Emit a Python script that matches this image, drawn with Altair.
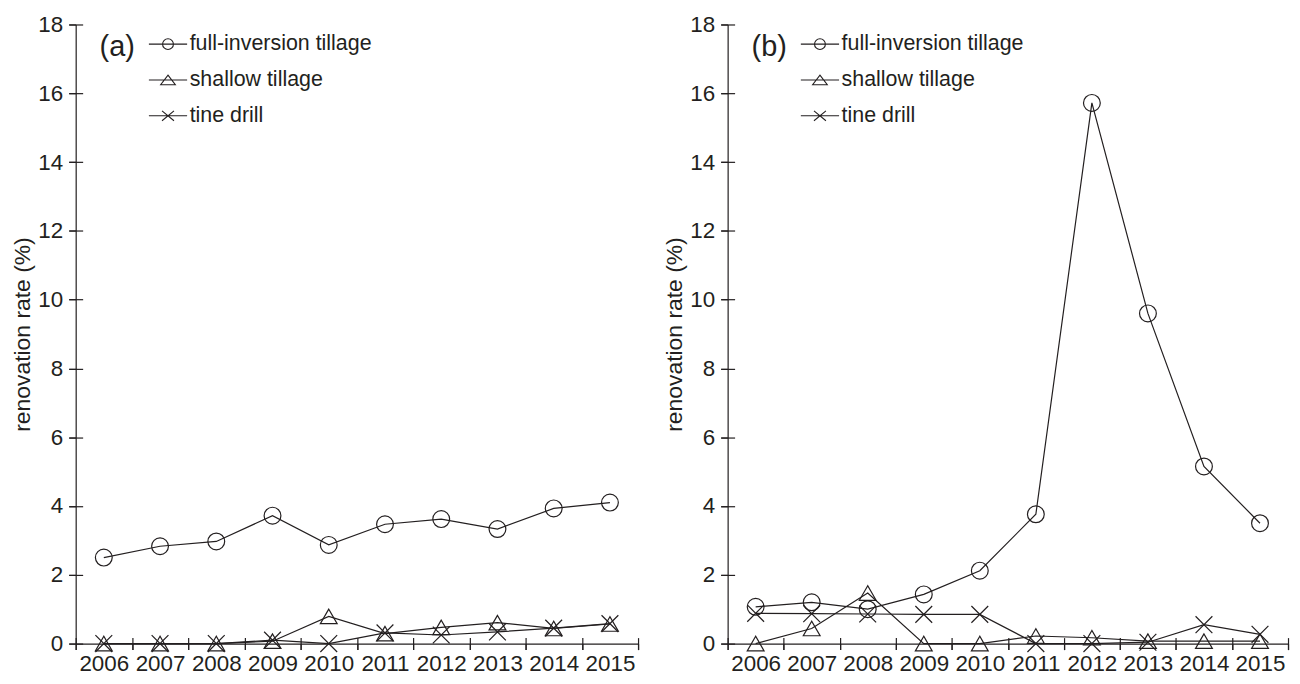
import altair as alt
import pandas as pd

years = ["2006", "2007", "2008", "2009", "2010", "2011", "2012", "2013", "2014", "2015"]
series = ["full-inversion tillage", "shallow tillage", "tine drill"]

a_full = [2.50, 2.83, 2.97, 3.72, 2.87, 3.47, 3.62, 3.33, 3.93, 4.10]
a_shallow = [0.0, 0.0, 0.0, 0.07, 0.79, 0.29, 0.47, 0.61, 0.44, 0.57]
a_tine = [0.0, 0.0, 0.0, 0.10, 0.0, 0.31, 0.25, 0.34, 0.45, 0.58]

b_full = [1.07, 1.20, 1.00, 1.43, 2.12, 3.76, 15.72, 9.60, 5.15, 3.50]
b_shallow = [0.0, 0.44, 1.47, 0.0, 0.0, 0.22, 0.17, 0.07, 0.07, 0.07]
b_tine = [0.88, 0.87, 0.86, 0.85, 0.85, 0.0, 0.0, 0.04, 0.55, 0.27]

y_ticks = [0, 2, 4, 6, 8, 10, 12, 14, 16, 18]

INK = "#231f20"
FONT = "Liberation Sans"

# plot-marker shapes
marker_shapes = ["circle", "triangle-up", "M-1,-1L1,1M-1,1L1,-1"]
# legend shapes: marker with a line through it
legend_shapes = [
    "M-2.4,0H2.4M0.68,0A0.68,0.68,0,1,1,-0.68,0A0.68,0.68,0,1,1,0.68,0",
    "M-2.4,0H2.4M0,-0.6L0.92,0.6L-0.92,0.6Z",
    "M-2.4,0H2.4M-0.75,-0.62L0.75,0.62M-0.75,0.62L0.75,-0.62",
]


def panel(full, shallow, tine, tag, width):
    df = pd.DataFrame({
        "year": years * 3,
        "series": [series[0]] * 10 + [series[1]] * 10 + [series[2]] * 10,
        "value": full + shallow + tine,
    })
    df["leg"] = df["series"]

    xscale = alt.Scale(type="band", domain=years, paddingInner=0, paddingOuter=0)
    yscale = alt.Scale(domain=[0, 18], nice=False, zero=True)

    x_main = alt.X("year:O", scale=xscale, bandPosition=0.5, title=None,
                   axis=alt.Axis(orient="bottom", tickBand="extent", tickSize=6,
                                 labelPadding=3, labelAngle=0, labelFontSize=22.5,
                                 labelFont=FONT, labelColor=INK, domainColor=INK,
                                 tickColor=INK, domainWidth=1.2, tickWidth=1.2,
                                 grid=False))
    y_main = alt.Y("value:Q", scale=yscale, title="renovation rate (%)",
                   axis=alt.Axis(orient="left", values=y_ticks, tickSize=7,
                                 labelPadding=6, labelFontSize=22.5, labelFont=FONT,
                                 labelColor=INK, domainColor=INK, tickColor=INK,
                                 domainWidth=1.2, tickWidth=1.2, grid=False,
                                 titleFont=FONT, titleFontSize=23,
                                 titleFontWeight="normal", titleColor=INK,
                                 titlePadding=3))
    x_none = alt.X("year:O", scale=xscale, bandPosition=0.5, axis=None)
    y_none = alt.Y("value:Q", scale=yscale, axis=None)

    lines = alt.Chart(df).mark_line(color=INK, strokeWidth=1.2).encode(
        x=x_main, y=y_main, detail="series:N")

    points = alt.Chart(df).mark_point(filled=False, color=INK, strokeWidth=1.2,
                                      size=285, opacity=1).encode(
        x=x_none, y=y_none,
        shape=alt.Shape("series:N", scale=alt.Scale(domain=series, range=marker_shapes),
                        legend=None))

    legend_layer = alt.Chart(df).mark_point(opacity=0, filled=False).encode(
        x=x_none, y=y_none,
        shape=alt.Shape("leg:N", scale=alt.Scale(domain=series, range=legend_shapes),
                        legend=alt.Legend(
                            title=tag, titleOrient="left", titleFontSize=29,
                            titleFont=FONT, titleFontWeight="normal", titleColor=INK,
                            titlePadding=22, titleBaseline="top", titleAnchor="start",
                            orient="none", legendX=24, legendY=9,
                            labelFontSize=21.5, labelFont=FONT, labelColor=INK,
                            labelOffset=11, labelLimit=0, symbolSize=256,
                            symbolStrokeWidth=1.1,
                            symbolStrokeColor=INK, symbolFillColor="transparent",
                            symbolOpacity=1, rowPadding=13)))

    # second set of ticks so that every tick crosses the axis line
    inner_ticks = alt.Chart(df).mark_point(opacity=0).encode(
        x=alt.X("year:O", scale=xscale, bandPosition=0.5, title=None,
                axis=alt.Axis(orient="bottom", tickBand="extent", offset=-6,
                              tickSize=12, labels=False, domain=False,
                              tickColor=INK, tickWidth=1.2, grid=False)),
        y=alt.Y("value:Q", scale=yscale, title=None,
                axis=alt.Axis(orient="left", values=y_ticks, offset=-7, tickSize=14,
                              labels=False, domain=False, tickColor=INK,
                              tickWidth=1.2, grid=False)))

    return alt.layer(lines, points, legend_layer, inner_ticks).resolve_scale(
        shape="independent").resolve_axis(x="independent", y="independent").properties(
        width=width, height=622)


pa = panel(a_full, a_shallow, a_tine, "(a)", 565)
pb = panel(b_full, b_shallow, b_tine, "(b)", 563)

chart = alt.hconcat(pa, pb, spacing=24).properties(
    padding={"left": 3, "top": 4, "right": 3, "bottom": 0},
    background="white",
).configure_view(stroke=None)

chart.save("out.html", embed_options={"renderer": "svg", "actions": False})
